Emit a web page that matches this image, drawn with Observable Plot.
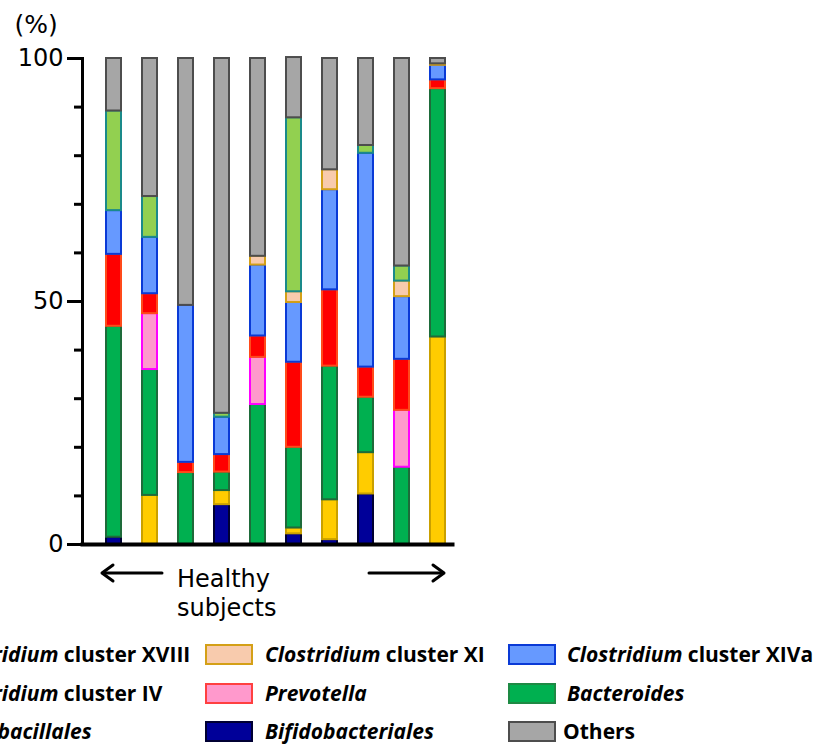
<!DOCTYPE html>
<html>
<head>
<meta charset="utf-8">
<script src="https://cdn.jsdelivr.net/npm/d3@7"></script>
<script src="https://cdn.jsdelivr.net/npm/@observablehq/plot@0.6"></script>
<style>
  html, body { margin: 0; padding: 0; background: #fff; }
  body { width: 818px; height: 746px; overflow: hidden; position: relative; }
  #chart { position: absolute; left: 0; top: 0; }
  #caption { position: absolute; left: 0; top: 550px; }
  .item { position: absolute; height: 30px; line-height: 30px;
          font-family: "Open Sans", sans-serif; font-weight: 700; font-size: 21px; color: #000; white-space: pre; }
  .sw { position: absolute; width: 44px; height: 17px; border: 2px solid; box-sizing: content-box; }
</style>
</head>
<body>
<div id="chart"></div>
<svg id="caption" width="818" height="80" font-family="DejaVu Sans, sans-serif">
  <g stroke="#000" stroke-width="3" fill="none" stroke-linecap="round" stroke-linejoin="round">
    <path d="M162,23 H103"></path>
    <path d="M113,15 L102,23 L113,31"></path>
    <path d="M369,23 H443"></path>
    <path d="M433,15 L444,23 L433,31"></path>
  </g>
  <text x="177" y="37" font-size="24">Healthy</text>
  <text x="177" y="66" font-size="24">subjects</text>
</svg>
<div id="legend"></div>
<script>
// ---- data ----
const subjects = ["S1", "S2", "S3", "S4", "S5", "S6", "S7", "S8", "S9", "S10"];
const seriesNames = [
  "Bifidobacteriales", "Lactobacillales", "Bacteroides", "Prevotella",
  "Clostridium cluster IV", "Clostridium cluster XIVa", "Clostridium cluster XI",
  "Clostridium cluster XVIII", "Others"
];
const bifidobacteriales = [1.5, 0, 0, 8.2, 0, 2.2, 1.0, 10.4, 0, 0];
const lactobacillales   = [0, 10.1, 0, 2.9, 0, 1.2, 8.2, 8.5, 0, 42.7];
const bacteroides       = [43.4, 25.9, 14.8, 3.8, 28.8, 16.6, 27.5, 11.4, 15.9, 51.1];
const prevotella        = [0, 11.5, 0, 0, 9.7, 0, 0, 0, 11.7, 0];
const clostridiumIV     = [14.8, 4.1, 2.1, 3.6, 4.4, 17.5, 15.7, 6.2, 10.5, 1.8];
const clostridiumXIVa   = [9.0, 11.6, 32.3, 7.7, 14.6, 12.3, 20.6, 44.0, 12.9, 3.0];
const clostridiumXI     = [0, 0, 0, 0, 1.8, 2.2, 4.1, 0, 3.2, 0.3];
const clostridiumXVIII  = [20.5, 8.4, 0, 0.8, 0, 35.8, 0, 1.6, 3.1, 0];
const others            = [10.8, 28.4, 50.8, 73.0, 40.7, 12.4, 22.9, 17.9, 42.7, 1.1];
const yMajorTicks = [0, 50, 100];
const yMinorTicks = [10, 20, 30, 40, 60, 70, 80, 90];

// ---- styles ----
const fills = {
  "Bifidobacteriales": "#000099",
  "Lactobacillales": "#ffcc00",
  "Bacteroides": "#00b050",
  "Prevotella": "#ff99cc",
  "Clostridium cluster IV": "#ff0000",
  "Clostridium cluster XIVa": "#6699ff",
  "Clostridium cluster XI": "#f8cbad",
  "Clostridium cluster XVIII": "#92d050",
  "Others": "#a6a6a6"
};
const strokes = {
  "Bifidobacteriales": "#000033",
  "Lactobacillales": "#c9a000",
  "Bacteroides": "#1e6b3a",
  "Prevotella": "#ff00ff",
  "Clostridium cluster IV": "#ff4a1a",
  "Clostridium cluster XIVa": "#0a3ad6",
  "Clostridium cluster XI": "#d4a017",
  "Clostridium cluster XVIII": "#1a8a8a",
  "Others": "#4d4d4d"
};
const legendStrokes = Object.assign({}, strokes, {"Prevotella": "#ff4040", "Bacteroides": "#1e8a44"});

const valuesBySeries = {
  "Bifidobacteriales": bifidobacteriales,
  "Lactobacillales": lactobacillales,
  "Bacteroides": bacteroides,
  "Prevotella": prevotella,
  "Clostridium cluster IV": clostridiumIV,
  "Clostridium cluster XIVa": clostridiumXIVa,
  "Clostridium cluster XI": clostridiumXI,
  "Clostridium cluster XVIII": clostridiumXVIII,
  "Others": others
};
const rows = subjects.flatMap((s, i) =>
  seriesNames.map(name => ({subject: s, series: name, value: valuesBySeries[name][i]})));

const chart = Plot.plot({
  width: 818,
  height: 556,
  marginLeft: 82,
  marginRight: 366,
  marginTop: 58,
  marginBottom: 12,
  style: {fontFamily: "DejaVu Sans, sans-serif", fontSize: "24px", background: "white", color: "#000"},
  x: {domain: subjects, range: [94, 457], paddingInner: 0.57, paddingOuter: 0.285, axis: null},
  y: {domain: [0, 100], label: null},
  color: {type: "identity"},
  marks: [
    Plot.barY(rows, Plot.stackY({
      x: "subject", y: "value", z: "series", order: seriesNames,
      filter: d => d.value > 0,
      fill: d => fills[d.series], stroke: d => strokes[d.series], strokeWidth: 2
    })),
    Plot.axisY({ticks: yMinorTicks, tickSize: 8, strokeWidth: 3, tickFormat: () => "", label: null}),
    Plot.axisY({ticks: yMajorTicks, tickSize: 15, tickPadding: 4, strokeWidth: 3, fontSize: 24, label: null}),
    Plot.frame({anchor: "left", strokeWidth: 3}),
    Plot.frame({anchor: "bottom", strokeWidth: 4}),
    Plot.text(["(%)"], {frameAnchor: "top-left", dx: -68, dy: -34, textAnchor: "start", lineAnchor: "middle", fontSize: 25})
  ]
});
document.getElementById("chart").appendChild(chart);

// ---- legend (columns; first column runs off the left edge as in the reference) ----
const legendItems = [
  {name: "Clostridium cluster XVIII", italic: "Clostridium", rest: " cluster XVIII", col: 0, row: 0},
  {name: "Clostridium cluster IV", italic: "Clostridium", rest: " cluster IV", col: 0, row: 1},
  {name: "Lactobacillales", italic: "Lactobacillales", rest: "", col: 0, row: 2},
  {name: "Clostridium cluster XI", italic: "Clostridium", rest: " cluster XI", col: 1, row: 0},
  {name: "Prevotella", italic: "Prevotella", rest: "", col: 1, row: 1},
  {name: "Bifidobacteriales", italic: "Bifidobacteriales", rest: "", col: 1, row: 2},
  {name: "Clostridium cluster XIVa", italic: "Clostridium", rest: " cluster XIVa", col: 2, row: 0},
  {name: "Bacteroides", italic: "Bacteroides", rest: "", col: 2, row: 1},
  {name: "Others", italic: "", rest: "Others", col: 2, row: 2}
];
const colSwatchX = [-113, 205, 508];
const colTextX = [-57, 265, 567];
const rowY = [654, 693, 731];
const legend = document.getElementById("legend");
for (const it of legendItems) {
  const sw = document.createElement("div");
  sw.className = "sw";
  sw.style.left = colSwatchX[it.col] + "px";
  sw.style.top = (rowY[it.row] - 10) + "px";
  sw.style.background = fills[it.name];
  sw.style.borderColor = legendStrokes[it.name];
  legend.appendChild(sw);
  const t = document.createElement("div");
  t.className = "item";
  t.style.left = (it.name === "Others" ? colTextX[it.col] - 4 : colTextX[it.col]) + "px";
  t.style.top = (rowY[it.row] - 15) + "px";
  if (it.italic) { const i = document.createElement("i"); i.textContent = it.italic; t.appendChild(i); }
  if (it.rest) t.appendChild(document.createTextNode(it.rest));
  legend.appendChild(t);
}
</script>
</body>
</html>
